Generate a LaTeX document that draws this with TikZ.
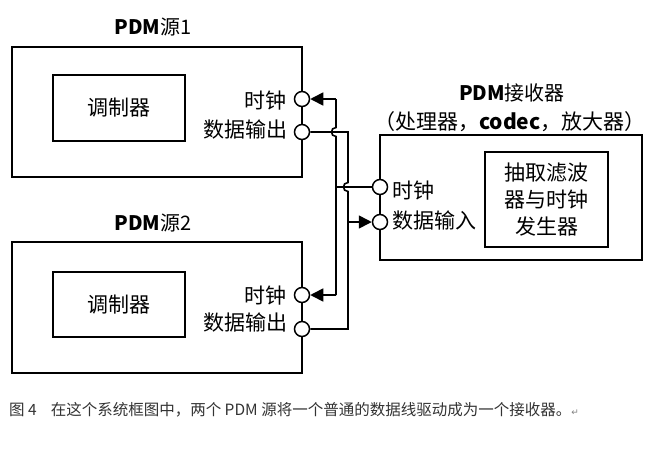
\documentclass[tikz,border=0pt]{standalone}
\usepackage{fontspec}
\setmainfont{Noto Sans CJK SC}
\newfontfamily\symfont{DejaVu Sans}
\usetikzlibrary{positioning, arrows.meta, calc}

\begin{document}
\begin{tikzpicture}[
    x=1pt, y=-1pt,
    box/.style={rectangle, draw, line width=1.7pt, inner sep=0pt},
    port/.style={circle, draw, line width=1.5pt, fill=white, minimum size=15pt, inner sep=0pt},
    lbl/.style={font=\fontsize{21}{23}\selectfont, inner sep=0pt},
    title/.style={font=\fontsize{20}{22}\selectfont, inner sep=0pt},
    wire/.style={line width=1.6pt},
    arrow/.style={wire, -{Triangle[length=13pt, width=13pt]}}
]
    \useasboundingbox (0,0) rectangle (650,453);

    % Two PDM sources
    \node[box, minimum width=290pt, minimum height=130pt] (src1) at (157,112) {};
    \node[box, minimum width=132pt, minimum height=66pt, lbl] (mod1) at (119,108) {调制器};
    \node[title] (src1title) at (153,27) {\textbf{PDM}源1};
    \node[box, minimum width=290pt, minimum height=131pt] (src2) at (157,307.5) {};
    \node[box, minimum width=132pt, minimum height=65pt, lbl] (mod2) at (119,304.5) {调制器};
    \node[title] (src2title) at (153,223) {\textbf{PDM}源2};

    % Receiver
    \node[box, minimum width=262pt, minimum height=125pt] (rx) at (511,197.5) {};
    \node[box, minimum width=123pt, minimum height=95pt, align=center,
          font=\fontsize{21}{27}\selectfont] (dec) at (546.5,199.5) {抽取滤波\\器与时钟\\发生器};
    \node[title] (rxtitle) at (512,93) {\textbf{PDM}接收器};
    \node[title, font=\fontsize{21}{23}\selectfont] (rxsub) at (510,122) {（处理器，\textbf{codec}，放大器）};

    % Ports
    \node[port] (clk1) at (302,99) {};
    \node[port] (dout1) at (302,132) {};
    \node[port] (clk2) at (302,295) {};
    \node[port] (dout2) at (302,329) {};
    \node[port] (clkin) at (380,187) {};
    \node[port] (din) at (380,222) {};

    % Port labels
    \node[lbl, anchor=east] (clk1txt) at (287,101) {时钟};
    \node[lbl, anchor=east] (dout1txt) at (288,130) {数据输出};
    \node[lbl, anchor=east] (clk2txt) at (287,296) {时钟};
    \node[lbl, anchor=east] (dout2txt) at (288,323) {数据输出};
    \node[lbl, anchor=west] (clkintxt) at (392,191) {时钟};
    \node[lbl, anchor=west] (dintxt) at (392,221) {数据输入};

    % Bus corners
    \coordinate (clktop) at (336,99);
    \coordinate (clkhop) at (336,132);
    \coordinate (clktap) at (336,187);
    \coordinate (clkbot) at (336,295);
    \coordinate (dattop) at (348,132);
    \coordinate (dathop) at (348,187);
    \coordinate (dattap) at (348,222);
    \coordinate (datbot) at (348,329);

    % Clock line
    \draw[arrow] (clktop) -- (clk1);
    \draw[wire] (clktop) -- ([yshift=4.5pt]clkhop)
        .. controls +(-6,0) and +(-6,0) .. ([yshift=-4.5pt]clkhop) -- (clkbot);
    \draw[arrow] (clkbot) -- (clk2);
    \draw[wire] (clktap) -- (clkin);

    % Data line
    \draw[wire] (dout1) -- (dattop) -- ([yshift=4.5pt]dathop)
        .. controls +(-6,0) and +(-6,0) .. ([yshift=-4.5pt]dathop) -- (datbot) -- (dout2);
    \draw[arrow] (dattap) -- (din);

    % Caption
    \node[anchor=west, inner sep=0pt, text=black!80, font=\fontsize{15.5}{17}\selectfont] (caption) at (9,410)
        {图 4\hspace{14pt}在这个系统框图中，两个 PDM 源将一个普通的数据线驱动成为一个接收器。{\symfont\fontsize{9}{10}\selectfont\textcolor{black!50}{↵}}};
\end{tikzpicture}
\end{document}
